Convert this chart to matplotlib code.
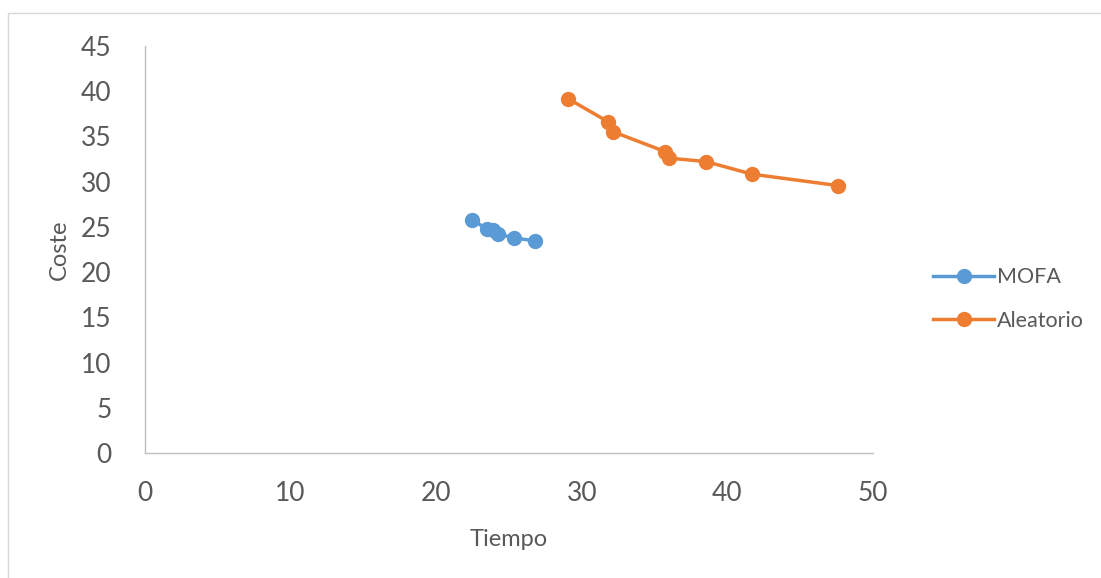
import matplotlib.pyplot as plt
from matplotlib.patches import Rectangle

# Tiempo / Coste de cada solucion
mofa_tiempo = [22.46, 23.49, 23.90, 24.24, 25.34, 26.79]
mofa_coste = [25.77, 24.78, 24.67, 24.23, 23.78, 23.45]

aleatorio_tiempo = [29.07, 31.78, 32.12, 35.71, 36.01, 38.53, 41.69, 47.58]
aleatorio_coste = [39.16, 36.65, 35.54, 33.33, 32.60, 32.22, 30.83, 29.57]

x_ticks = [0, 10, 20, 30, 40, 50]
y_ticks = [0, 5, 10, 15, 20, 25, 30, 35, 40, 45]

plt.rcParams['font.family'] = ['Lato', 'DejaVu Sans']
texto = '#595959'
eje = '#bfbfbf'

fig = plt.figure(figsize=(11.01, 5.78), dpi=100)
# marco gris del grafico
fig.patches.append(Rectangle((8 / 1101, -0.01), 1.0, 1 - 13 / 578 + 0.01,
                             transform=fig.transFigure, fill=False,
                             edgecolor='#d9d9d9', linewidth=1))

ax = fig.add_axes([145 / 1101, 1 - 453 / 578, (873 - 145) / 1101, (453 - 46) / 578])

ax.plot(mofa_tiempo, mofa_coste, color='#5B9BD5', linewidth=2.5,
        marker='o', markersize=10, label='MOFA')
ax.plot(aleatorio_tiempo, aleatorio_coste, color='#ED7D31', linewidth=2.5,
        marker='o', markersize=10, label='Aleatorio')

ax.set_xlim(0, 50)
ax.set_ylim(0, 45)
ax.set_xticks(x_ticks)
ax.set_yticks(y_ticks)

for lado in ['top', 'right']:
    ax.spines[lado].set_visible(False)
for lado in ['left', 'bottom']:
    ax.spines[lado].set_color(eje)
    ax.spines[lado].set_linewidth(1)

ax.tick_params(axis='both', length=0, labelsize=19, labelcolor=texto)
ax.tick_params(axis='y', pad=24)
ax.tick_params(axis='x', pad=20)

ax.set_xlabel('Tiempo', fontsize=17, color=texto, labelpad=17)
ax.set_ylabel('Coste', fontsize=17, color=texto, labelpad=8)

fig.legend(loc='center left', bbox_to_anchor=(914 / 1101, 1 - 299 / 578),
           frameon=False, fontsize=15.5, labelcolor=texto, handlelength=2.8,
           handletextpad=0.15, labelspacing=1.1)

fig.savefig('out.png', dpi=100)
